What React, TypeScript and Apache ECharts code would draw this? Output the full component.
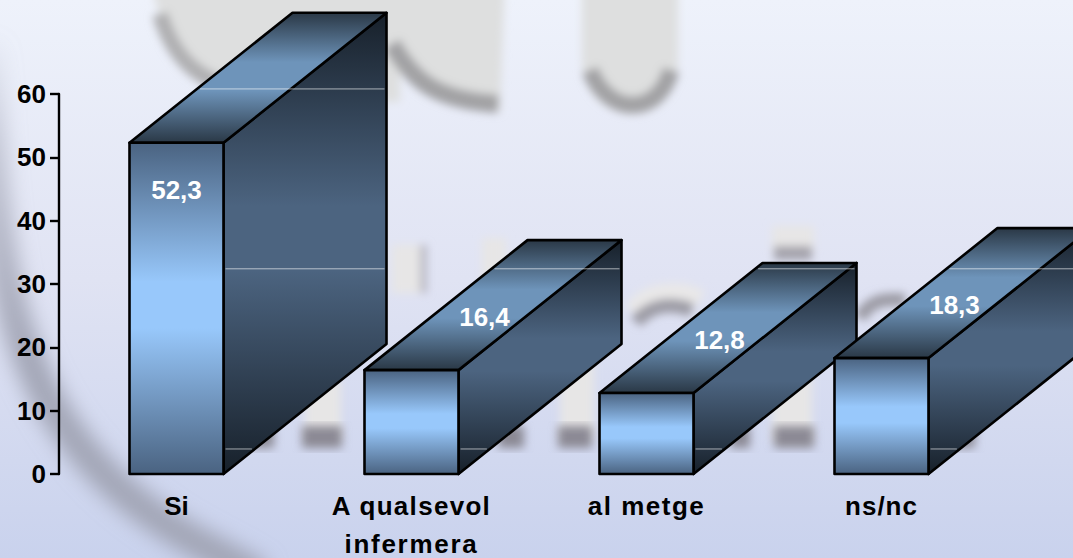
import React, { useEffect, useRef } from "react";
import * as echarts from "echarts";

const categories = ["Si", "A qualsevol\ninfermera", "al metge", "ns/nc"];
const percentValues = [52.3, 16.4, 12.8, 18.3];
const valueLabels = ["52,3", "16,4", "12,8", "18,3"];
const highlightLevels = [60.8, 32.4, 3.95];
const axisTicks = [0, 10, 20, 30, 40, 50, 60];
const labelTracking: Record<string, number> = { "A qualsevol": 1.3, infermera: 1.7, "al metge": 1.5, "ns/nc": 1 };

const DEPTH_X = 163;
const DEPTH_Y = -130;
const BAR_WIDTH = 94;
const FONT = "'Liberation Sans', Arial, sans-serif";

const bandGradient = (edge: string, middle: string, a = 0.42, b = 0.58) =>
  new echarts.graphic.LinearGradient(0, 0, 0, 1, [
    { offset: 0, color: edge },
    { offset: a, color: middle },
    { offset: b, color: middle },
    { offset: 1, color: edge },
  ]);

// Draws one extruded bar: top and side faces, front face, glints and value label.
function renderBar(params: any, api: any) {
  const i = api.value(0);
  const value = api.value(1);
  const [cx, yTop] = api.coord([i, value]);
  const [, y0] = api.coord([i, 0]);
  const xL = cx - BAR_WIDTH / 2;
  const xR = cx + BAR_WIDTH / 2;
  const outline = { stroke: "#000", lineWidth: 2.6, lineJoin: "round" };

  const children: any[] = [
    {
      type: "polygon",
      shape: { points: [[xR, yTop], [xR + DEPTH_X, yTop + DEPTH_Y], [xR + DEPTH_X, y0 + DEPTH_Y], [xR, y0]] },
      style: { fill: bandGradient("#17202a", "#4c6480", 0.42, 0.56), ...outline },
    },
    {
      type: "polygon",
      shape: { points: [[xL, yTop], [xR, yTop], [xR + DEPTH_X, yTop + DEPTH_Y], [xL + DEPTH_X, yTop + DEPTH_Y]] },
      style: { fill: bandGradient("#2a3846", "#6e94ba", 0.38, 0.6), ...outline },
    },
    {
      type: "rect",
      shape: { x: xL, y: yTop, width: BAR_WIDTH, height: y0 - yTop },
      style: { fill: bandGradient("#4a6381", "#98c8fb", 0.42, 0.56), ...outline },
    },
  ];

  // Thin light glints running across the top and side faces.
  for (const level of highlightLevels) {
    const y = api.coord([i, level])[1];
    if (y < yTop + DEPTH_Y + 1 || y > y0 - 1) continue;
    const start = y >= yTop ? xR + 2 : xL + (DEPTH_X * (yTop - y)) / -DEPTH_Y + 3;
    const end = y > y0 + DEPTH_Y ? xR + (DEPTH_X * (y0 - y)) / -DEPTH_Y - 3 : xR + DEPTH_X - 2;
    children.push({
      type: "line",
      shape: { x1: start, y1: y, x2: end, y2: y },
      style: { stroke: "rgba(255,255,255,0.6)", lineWidth: 1 },
    });
  }

  // The tall bar holds its label on the front face, the others on the top face.
  const onFront = value > 40;
  children.push({
    type: "text",
    x: onFront ? cx : cx + 73,
    y: onFront ? yTop + 47 : yTop - 53,
    style: {
      text: valueLabels[i],
      fill: "#fff",
      font: `bold 26px ${FONT}`,
      textAlign: "center",
      textVerticalAlign: "middle",
    },
  });
  return { type: "group", children };
}

export default function App() {
  const ref = useRef<HTMLDivElement>(null);

  useEffect(() => {
    const chart = echarts.init(ref.current!, undefined, { renderer: "svg" });
    chart.setOption({
      animation: false,
      backgroundColor: "transparent",
      grid: { left: 59, right: 74, top: 94, bottom: 84, outerBoundsMode: "none" },
      xAxis: {
        type: "category",
        data: categories,
        axisLine: { show: false },
        axisTick: { show: false },
        axisLabel: { color: "#000", fontFamily: FONT, fontWeight: "bold", fontSize: 26, lineHeight: 38, margin: 13 },
      },
      yAxis: {
        type: "value",
        min: axisTicks[0],
        max: axisTicks[axisTicks.length - 1],
        interval: axisTicks[1] - axisTicks[0],
        axisLine: { show: true, lineStyle: { color: "#000", width: 2.4 } },
        axisTick: { show: true, length: 9, lineStyle: { color: "#000", width: 2.4 } },
        splitLine: { show: false },
        axisLabel: { color: "#000", fontFamily: FONT, fontWeight: "bold", fontSize: 26, margin: 13 },
      },
      series: [
        {
          type: "custom",
          clip: false,
          renderItem: renderBar,
          data: percentValues.map((v, i) => [i, v]),
          encode: { x: 0, y: 1 },
        },
      ],
    });
    // Category captions are set with open tracking.
    ref.current!.querySelectorAll("text").forEach((node) => {
      const tracking = labelTracking[(node.textContent || "").trim()];
      if (tracking) (node as SVGTextElement).style.letterSpacing = `${tracking}px`;
    });
    return () => chart.dispose();
  }, []);

  return (
    <div style={{ position: "fixed", left: 0, top: 0, width: 1073, height: 558, overflow: "hidden", background: "linear-gradient(180deg,#eef2fb 0%,#e0e3f3 50%,#c9d2ed 100%)" }}>
      {/* Soft watermark behind the plot */}
      <svg width={1073} height={558} style={{ position: "absolute", left: 0, top: 0 }}>
        <defs>
          <filter id="soft" x="-20%" y="-20%" width="140%" height="140%"><feGaussianBlur stdDeviation="4" /></filter>
          <filter id="feet" x="-20%" y="-20%" width="140%" height="140%"><feGaussianBlur stdDeviation="5" /></filter>
          <filter id="wide" filterUnits="userSpaceOnUse" x="-50" y="-50" width="500" height="700"><feGaussianBlur stdDeviation="10" /></filter>
          <linearGradient id="sweep" gradientUnits="userSpaceOnUse" x1="0" y1="30" x2="0" y2="360">
            <stop offset="0" stopColor="#a6a9b8" stopOpacity="0" />
            <stop offset="0.35" stopColor="#a6a9b8" stopOpacity="0.55" />
            <stop offset="1" stopColor="#a0a3b3" stopOpacity="0.95" />
          </linearGradient>
        </defs>
        <g filter="url(#wide)" fill="none">
          <path d="M-12 40 C-12 170 -2 280 26 350 C50 420 100 480 160 520 C195 545 235 560 260 578" stroke="url(#sweep)" strokeWidth="32" />
        </g>
        <g filter="url(#soft)">
          <path d="M150 -20 C165 50 195 90 260 102 L400 102 L400 50 C420 85 445 108 500 112 L505 -20 Z" fill="#dedfdf" />
          <path d="M160 14 C174 60 200 88 270 96" stroke="#b0b0b2" strokeWidth="16" fill="none" />
          <path d="M392 44 C415 85 440 100 498 104" stroke="#a2a2a4" strokeWidth="18" fill="none" />
          <path d="M582 -20 L582 60 C582 95 610 114 632 114 C655 114 678 95 678 60 L678 -20 Z" fill="#dedfdf" />
          <path d="M590 70 C600 95 618 105 632 105 C648 105 664 95 671 70" stroke="#a2a2a4" strokeWidth="17" fill="none" />
          <rect x={305} y={380} width={36} height={60} fill="#e7e6e6" />
          <rect x={560} y={360} width={34} height={80} fill="#e7e6e6" />
          <rect x={772} y={372} width={40} height={70} fill="#e7e6e6" />
          <rect x={392} y={245} width={30} height={48} fill="#e7e6e6" />
          <rect x={420} y={245} width={7} height={48} fill="#b9b9c4" />
          <rect x={482} y={238} width={24} height={50} fill="#e7e6e6" />
          <rect x={772} y={226} width={42} height={26} fill="#e7e6e6" />
          <rect x={774} y={246} width={38} height={14} fill="#a4a3ac" />
          <path d="M634 312 C645 292 680 288 700 300" stroke="#e9e8e8" strokeWidth="20" fill="none" />
          <path d="M636 322 C650 305 670 302 692 310" stroke="#9d9ca6" strokeWidth="14" fill="none" />
          <path d="M860 318 C870 300 885 298 905 300" stroke="#9d9ca6" strokeWidth="13" fill="none" />
        </g>
        <g filter="url(#feet)">
          {[[302, 40], [248, 26], [558, 34], [498, 26], [730, 20], [774, 40], [953, 22]].map(([x, w], k) => (
            <rect key={k} x={x} y={426} width={w} height={22} fill="#8b8994" />
          ))}
        </g>
      </svg>
      <div ref={ref} style={{ position: "absolute", left: 0, top: 0, width: 1073, height: 558 }} />
    </div>
  );
}
